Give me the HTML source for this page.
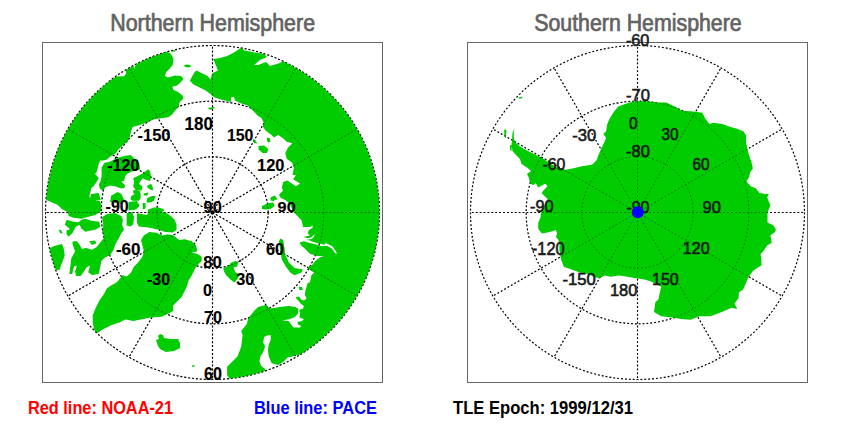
<!DOCTYPE html>
<html><head><meta charset="utf-8"><style>
html,body{margin:0;padding:0;background:#fff;}
svg{display:block;}
text{font-family:"Liberation Sans",sans-serif;}
</style></head><body>
<svg width="850" height="425" viewBox="0 0 850 425">
<rect width="850" height="425" fill="#fff"/>
<g fill="#636363" stroke="#636363" stroke-width="0.7">
<text x="110.2" y="31" font-size="23" textLength="204.9" lengthAdjust="spacingAndGlyphs">Northern Hemisphere</text>
<text x="534.2" y="30.8" font-size="23" textLength="207.5" lengthAdjust="spacingAndGlyphs">Southern Hemisphere</text>
</g>
<g fill="none" stroke="#000" stroke-width="1.15" stroke-dasharray="2 1.9">
<circle cx="212.5" cy="212.5" r="55.67"/>
<circle cx="212.5" cy="212.5" r="111.33"/>
<circle cx="212.5" cy="212.5" r="167.00"/>
<line x1="212.5" y1="212.5" x2="379.50" y2="212.50"/>
<line x1="212.5" y1="212.5" x2="357.13" y2="296.00"/>
<line x1="212.5" y1="212.5" x2="296.00" y2="357.13"/>
<line x1="212.5" y1="212.5" x2="212.50" y2="379.50"/>
<line x1="212.5" y1="212.5" x2="129.00" y2="357.13"/>
<line x1="212.5" y1="212.5" x2="67.87" y2="296.00"/>
<line x1="212.5" y1="212.5" x2="45.50" y2="212.50"/>
<line x1="212.5" y1="212.5" x2="67.87" y2="129.00"/>
<line x1="212.5" y1="212.5" x2="129.00" y2="67.87"/>
<line x1="212.5" y1="212.5" x2="212.50" y2="45.50"/>
<line x1="212.5" y1="212.5" x2="296.00" y2="67.87"/>
<line x1="212.5" y1="212.5" x2="357.13" y2="129.00"/>
</g>
<clipPath id="cn"><circle cx="212.5" cy="212.5" r="167.0"/></clipPath><path clip-path="url(#cn)" fill="#00cc00" d="M160.0,38.0 L167.6,51.7 L171.0,53.9 L173.6,59.0 L172.7,64.9 L169.3,69.1 L165.9,72.5 L165.0,75.9 L168.0,77.6 L175.0,75.6 L181.0,76.0 L183.5,79.0 L180.0,83.0 L177.0,85.6 L172.4,86.8 L173.5,90.0 L178.0,92.0 L182.5,95.5 L183.4,98.5 L179.6,102.2 L178.7,106.9 L174.9,110.7 L172.1,114.5 L168.4,117.3 L160.8,118.2 L154.2,119.2 L147.6,122.0 L140.0,125.0 L132.7,126.9 L131.3,130.6 L129.9,136.3 L128.0,141.0 L123.3,144.8 L120.5,147.6 L117.6,150.4 L115.8,153.2 L111.1,156.1 L106.4,159.8 L101.6,160.8 L100.7,160.0 L98.8,163.8 L97.9,167.5 L96.5,172.2 L95.1,174.1 L98.8,177.9 L96.9,181.6 L94.1,185.4 L91.3,188.2 L90.4,192.0 L89.4,195.8 L90.0,199.0 L100.0,201.0 L101.5,206.0 L101.3,210.9 L95.4,214.9 L87.5,216.9 L81.5,218.8 L73.6,217.8 L68.7,215.9 L67.7,211.9 L61.8,209.0 L57.8,205.0 L50.0,201.5 L44.0,199.0 L30.0,199.0 L30.0,100.0 L100.0,60.0 L115.1,76.6 L124.2,76.2 L126.3,73.3 L125.6,70.5 L129.1,67.7 L133.4,65.2 L134.1,69.1 L132.6,73.3 L135.5,65.6 L136.2,60.0 L140.0,50.0Z M171.0,49.7 L175.6,49.2 L175.0,51.6 L171.5,52.0Z M184.0,65.0 L188.0,64.5 L191.6,66.0 L189.0,67.6 L185.0,67.0Z M207.6,108.0 L214.7,106.8 L213.5,109.1 L210.0,109.7Z M101.6,167.5 L104.5,162.8 L109.2,161.9 L117.0,158.0 L124.2,156.1 L130.8,155.1 L132.7,157.0 L136.5,160.8 L139.3,163.8 L140.2,169.4 L132.7,171.3 L128.0,173.2 L125.2,176.0 L124.2,180.7 L121.4,181.6 L125.2,185.4 L124.2,188.2 L120.5,188.2 L115.8,186.4 L110.1,185.4 L105.4,187.3 L102.6,191.1 L99.8,188.2 L98.8,184.5 L100.7,180.7 L101.6,176.0 L101.6,171.3Z M133.2,178.2 L138.8,175.4 L142.6,173.5 L146.4,170.6 L148.2,169.2 L150.1,171.6 L151.1,177.2 L150.1,181.0 L146.4,180.1 L142.6,178.2 L140.7,181.0 L138.8,183.8 L142.6,186.6 L141.6,190.4 L136.0,190.4 L133.2,186.6 L134.1,181.9Z M147.3,185.7 L151.1,183.8 L152.9,187.6 L152.9,190.4 L150.1,189.5 L147.3,187.6Z M131.3,196.1 L136.0,193.2 L140.7,193.2 L140.7,197.9 L138.8,200.8 L132.2,200.8 L130.4,198.9Z M147.3,197.9 L152.0,196.1 L155.8,196.1 L153.9,200.8 L150.1,202.6 L146.4,202.6Z M111.1,195.8 L117.6,192.0 L121.4,193.9 L124.2,200.0 L122.0,204.0 L110.1,202.0Z M91.3,193.9 L98.8,192.9 L100.7,200.0 L89.4,200.0Z M128.5,201.9 L136.9,200.9 L139.8,205.6 L136.0,209.4 L128.5,210.4Z M126.6,213.2 L132.2,212.2 L134.1,216.9 L133.2,224.5 L130.4,226.4 L126.6,225.4 L126.6,218.8Z M136.9,213.2 L141.6,214.1 L147.3,215.1 L148.2,209.4 L153.9,207.5 L158.6,207.5 L163.3,208.9 L164.2,210.4 L161.4,212.2 L165.2,212.2 L170.8,216.0 L174.6,219.8 L176.5,224.5 L176.5,230.1 L172.7,232.5 L165.2,232.0 L159.5,230.1 L152.0,228.2 L146.4,227.3 L138.8,226.4 L136.9,222.6Z M66.7,219.8 L73.6,221.8 L78.6,222.3 L81.5,219.8 L85.5,218.8 L91.4,220.8 L99.3,221.8 L100.3,226.7 L95.4,229.7 L89.5,230.7 L85.5,231.7 L81.5,228.7 L79.6,224.8 L75.6,226.7 L72.7,232.7 L68.7,236.6 L66.7,233.7 L69.7,228.7 L64.8,224.8Z M58.8,229.7 L61.0,230.0 L62.8,233.7 L60.0,233.0Z M72.7,241.6 L76.0,241.0 L78.6,246.5 L74.0,246.0Z M89.2,241.3 L94.8,240.4 L96.7,243.2 L92.0,245.1Z M66.6,230.0 L72.2,230.0 L69.4,236.6 L66.6,234.7Z M102.3,216.9 L107.2,213.9 L115.1,212.9 L121.1,215.9 L123.0,219.8 L122.1,224.8 L124.0,229.7 L121.0,233.7 L119.3,237.5 L115.5,244.1 L113.6,249.8 L109.9,255.4 L105.2,257.3 L101.4,261.1 L100.5,265.8 L98.6,274.1 L92.0,275.1 L88.2,272.2 L90.1,265.6 L86.4,267.5 L83.5,272.2 L80.7,276.0 L76.0,276.0 L75.1,271.3 L76.9,265.6 L74.1,266.6 L72.2,274.1 L69.4,274.1 L71.3,258.2 L75.1,251.6 L73.2,246.0 L72.2,242.2 L76.9,241.3 L79.8,245.1 L81.6,248.8 L86.4,247.9 L92.0,249.8 L96.7,246.9 L100.5,242.2 L104.2,237.5 L102.4,231.9 L103.3,224.8 L102.3,219.8Z M45.0,246.0 L49.6,247.9 L54.4,246.0 L61.9,244.1 L63.8,248.8 L64.7,255.4 L62.8,261.1 L61.0,265.0 L60.0,269.4 L56.2,270.4 L48.0,272.0 L40.0,260.0Z M141.0,239.9 L143.8,235.6 L149.4,232.1 L156.5,232.8 L162.1,235.6 L167.8,234.2 L173.4,235.6 L179.1,239.9 L184.7,239.2 L191.8,241.3 L196.0,245.5 L197.4,251.2 L191.8,252.6 L197.4,254.0 L201.7,256.8 L201.7,261.1 L196.0,266.7 L193.2,272.4 L190.4,278.0 L188.7,280.0 L187.3,285.6 L184.5,291.3 L181.7,296.9 L177.4,301.2 L173.2,305.4 L173.2,311.1 L167.5,313.9 L161.9,316.7 L150.6,317.4 L140.7,319.5 L133.6,320.9 L125.2,319.5 L119.5,322.4 L111.1,325.2 L102.6,329.4 L96.9,333.6 L94.1,329.4 L92.7,322.4 L92.7,315.3 L95.5,308.2 L99.8,299.8 L104.0,294.1 L106.8,288.5 L111.0,285.5 L116.9,282.2 L119.8,278.7 L122.6,275.2 L126.8,276.6 L131.1,272.4 L133.9,266.7 L138.1,262.5 L142.4,256.8 L143.8,251.2 L142.4,245.5Z M400.0,30.0 L400.0,300.0 L300.0,362.0 L297.1,354.8 L292.4,356.6 L287.6,357.6 L282.9,362.3 L278.2,365.1 L271.6,363.2 L268.8,356.6 L267.9,350.1 L268.8,344.4 L270.7,339.7 L270.7,335.0 L267.0,335.5 L264.1,336.9 L263.2,342.5 L265.1,346.3 L263.2,351.9 L260.4,356.6 L259.4,361.4 L261.3,366.1 L265.1,368.9 L265.0,390.0 L229.0,390.0 L229.4,378.5 L227.1,375.0 L227.1,366.8 L232.9,360.9 L237.6,356.2 L241.2,346.8 L242.6,335.2 L241.2,330.9 L246.8,323.9 L248.2,318.2 L253.9,311.2 L258.1,306.9 L266.6,304.8 L269.4,308.4 L274.7,307.9 L279.4,306.9 L288.8,306.0 L295.4,306.9 L298.2,308.8 L298.2,313.5 L294.5,317.3 L288.8,319.2 L282.2,320.6 L288.8,321.1 L290.7,323.9 L293.5,327.6 L300.1,327.6 L301.1,325.8 L298.2,324.8 L297.3,322.0 L302.0,321.1 L303.9,319.2 L299.2,317.3 L300.1,314.5 L299.2,309.8 L302.9,308.8 L303.9,306.0 L301.1,304.1 L298.2,300.4 L295.4,297.5 L299.2,296.6 L301.1,299.4 L303.9,300.4 L306.7,298.5 L304.8,294.7 L305.3,291.2 L307.6,282.9 L310.0,282.2 L311.4,275.2 L314.2,272.4 L311.4,270.9 L307.2,268.1 L310.0,266.0 L312.1,265.0 L315.0,261.2 L319.7,257.6 L323.8,255.9 L317.4,255.9 L315.0,255.3 L310.3,254.1 L307.9,251.8 L304.4,248.2 L300.9,245.3 L299.7,242.4 L303.8,241.2 L309.7,242.9 L314.4,244.1 L321.5,245.9 L327.4,245.9 L332.1,248.8 L335.0,252.9 L336.8,254.1 L336.2,251.8 L332.6,246.5 L329.1,244.7 L325.6,242.9 L324.4,244.7 L318.5,243.5 L312.6,241.8 L309.1,240.3 L306.0,240.0 L311.2,239.1 L314.0,236.9 L314.7,234.1 L311.2,237.6 L307.6,238.3 L303.4,236.9 L309.8,235.5 L307.6,232.7 L309.1,229.9 L312.6,227.8 L312.6,225.6 L309.8,227.1 L302.7,227.1 L302.9,225.8 L301.5,220.2 L297.3,215.9 L293.1,211.7 L290.2,204.6 L286.0,200.4 L280.4,197.6 L278.9,194.8 L283.2,190.5 L281.8,187.7 L283.2,182.1 L287.4,180.6 L295.9,186.3 L300.1,183.5 L293.1,179.2 L295.9,175.0 L292.4,175.0 L293.8,168.6 L292.4,163.0 L286.7,158.8 L285.3,153.1 L288.1,147.5 L292.4,143.2 L286.7,141.8 L283.9,139.0 L278.2,134.8 L274.0,137.6 L271.2,134.8 L265.5,130.5 L262.7,126.3 L264.1,123.5 L261.3,117.8 L258.0,116.0 L254.7,112.6 L251.2,109.1 L247.6,105.6 L240.6,103.2 L234.7,100.3 L234.1,96.8 L231.2,97.4 L231.2,102.1 L221.8,99.7 L214.7,97.4 L210.0,93.8 L205.3,90.3 L200.6,87.9 L193.5,84.4 L189.8,80.8 L194.5,72.3 L196.4,70.4 L202.0,73.2 L207.6,76.1 L210.5,79.5 L211.5,76.0 L212.4,73.2 L214.2,72.3 L218.0,70.4 L216.1,65.7 L213.3,59.1 L218.9,58.2 L226.5,56.3 L234.0,52.5 L239.6,48.8 L241.5,47.4 L244.4,50.6 L252.0,52.0 L264.0,54.0 L267.0,57.0 L260.0,60.0 L254.0,65.0 L258.0,65.0 L266.0,62.0 L270.0,66.0 L280.0,63.0 L286.0,58.0 L300.0,30.0Z M266.9,137.6 L269.8,138.3 L270.5,141.8 L268.4,142.5 L266.9,140.4Z M258.5,146.1 L264.1,145.4 L268.4,148.9 L266.9,153.1 L262.7,153.1 L258.5,149.6Z M252.8,139.0 L255.6,140.4 L257.1,143.2 L254.2,143.2Z M270.5,197.6 L274.7,195.5 L277.5,199.0 L273.3,201.1 L270.5,200.4Z M262.0,206.1 L267.6,203.2 L273.3,202.5 L274.7,206.1 L270.5,208.9 L264.8,209.6 L262.0,208.9Z M280.4,238.5 L283.2,239.9 L284.6,248.4 L285.0,254.0 L288.8,262.5 L294.5,268.1 L302.9,269.5 L301.5,272.4 L294.5,275.2 L290.2,272.4 L286.0,266.7 L281.8,259.6 L280.4,251.2 L278.9,241.3Z M298.7,286.5 L301.8,287.0 L303.0,290.0 L299.4,290.0Z M223.2,268.5 L228.8,265.7 L230.7,262.9 L235.4,261.0 L238.2,261.9 L237.3,266.6 L233.5,267.6 L235.4,272.3 L239.2,274.2 L238.2,277.9 L234.5,282.6 L230.7,279.8 L226.0,275.1 L224.1,271.4Z M160.0,334.0 L163.0,335.0 L164.0,338.0 L170.0,339.0 L178.0,339.0 L180.0,343.0 L180.0,348.0 L174.0,351.0 L166.0,352.0 L160.0,349.0 L158.0,346.0 L156.0,340.0 L159.0,339.0 L158.0,336.0Z M192.2,365.2 L195.0,365.2 L194.0,366.8 L192.0,366.8Z M143.6,193.5 L148.4,192.5 L147.4,195.4 L143.6,195.4Z M142.7,202.9 L145.5,202.9 L145.5,208.5 L142.7,209.5Z M133.3,189.7 L140.8,191.6 L138.9,194.4 L133.3,193.5Z"/>
<g fill="none" stroke="#000" stroke-width="1.15" stroke-dasharray="1.8 2.1">
<circle cx="637.5" cy="212.5" r="55.67"/>
<circle cx="637.5" cy="212.5" r="111.33"/>
<circle cx="637.5" cy="212.5" r="167.00"/>
<line x1="637.5" y1="212.5" x2="804.50" y2="212.50"/>
<line x1="637.5" y1="212.5" x2="782.13" y2="296.00"/>
<line x1="637.5" y1="212.5" x2="721.00" y2="357.13"/>
<line x1="637.5" y1="212.5" x2="637.50" y2="379.50"/>
<line x1="637.5" y1="212.5" x2="554.00" y2="357.13"/>
<line x1="637.5" y1="212.5" x2="492.87" y2="296.00"/>
<line x1="637.5" y1="212.5" x2="470.50" y2="212.50"/>
<line x1="637.5" y1="212.5" x2="492.87" y2="129.00"/>
<line x1="637.5" y1="212.5" x2="554.00" y2="67.87"/>
<line x1="637.5" y1="212.5" x2="637.50" y2="45.50"/>
<line x1="637.5" y1="212.5" x2="721.00" y2="67.87"/>
<line x1="637.5" y1="212.5" x2="782.13" y2="129.00"/>
</g>
<clipPath id="cs"><circle cx="637.5" cy="212.5" r="167.0"/></clipPath><path clip-path="url(#cs)" fill="#00cc00" d="M613.0,113.0 L618.2,106.6 L629.5,102.4 L636.6,101.0 L649.3,101.6 L657.8,102.4 L666.2,102.4 L674.7,106.6 L681.8,110.8 L693.9,111.4 L702.4,112.8 L705.2,118.5 L709.4,124.1 L713.6,122.7 L722.1,124.1 L730.6,126.9 L736.2,128.4 L743.3,131.2 L746.1,135.4 L746.1,142.5 L747.5,149.5 L750.4,159.4 L751.0,160.0 L752.9,168.5 L750.1,172.2 L749.2,176.9 L746.4,181.6 L751.1,186.4 L755.8,188.2 L759.5,192.9 L765.2,193.9 L768.9,193.9 L767.1,197.6 L768.9,200.0 L767.5,198.5 L770.4,205.5 L767.5,212.6 L767.5,222.5 L773.2,225.3 L776.0,229.5 L774.6,232.4 L770.4,235.2 L771.8,242.2 L769.9,240.0 L771.8,242.8 L767.1,245.6 L763.3,251.3 L760.5,254.1 L761.4,258.8 L761.4,265.4 L756.7,268.2 L752.9,271.1 L748.2,277.6 L747.3,280.0 L743.1,289.5 L738.8,292.4 L738.7,297.8 L734.5,303.5 L737.3,309.1 L731.7,307.7 L721.8,311.9 L710.5,316.2 L699.2,316.2 L690.7,319.7 L680.8,319.0 L672.4,317.6 L661.1,316.2 L654.0,311.9 L655.4,302.1 L658.4,299.4 L659.8,292.4 L661.2,286.7 L657.0,284.5 L651.0,281.5 L644.5,279.6 L636.0,278.2 L627.5,276.8 L619.1,275.4 L610.6,276.8 L604.9,275.4 L599.3,278.2 L593.6,276.8 L588.0,274.0 L579.5,272.6 L572.5,269.8 L564.0,266.9 L561.2,259.9 L559.8,252.8 L559.4,250.0 L559.4,244.1 L558.2,239.4 L555.9,237.1 L557.1,233.5 L555.9,230.0 L552.4,231.2 L547.6,232.4 L541.8,233.5 L538.2,228.8 L538.2,222.9 L540.6,217.1 L540.6,215.0 L541.8,209.7 L545.3,203.8 L547.6,199.1 L545.3,196.8 L541.8,193.2 L542.9,190.9 L547.6,186.2 L545.3,183.8 L538.2,187.4 L535.9,183.2 L533.5,185.0 L530.0,183.8 L529.0,178.0 L527.0,174.0 L531.0,171.0 L527.0,167.5 L521.5,164.0 L520.0,159.0 L516.0,155.0 L512.5,151.0 L511.5,145.0 L512.0,140.0 L512.5,133.0 L514.5,128.5 L513.8,133.0 L514.0,139.0 L516.0,143.0 L520.0,146.5 L526.0,150.0 L533.0,153.5 L541.0,157.5 L549.0,162.5 L556.0,167.0 L565.3,169.7 L572.4,168.5 L581.8,166.2 L590.0,165.0 L593.0,164.0 L596.7,160.0 L598.6,154.8 L601.4,148.2 L604.2,142.6 L606.1,137.9 L603.3,134.1 L606.1,131.3 L607.1,124.7 L608.9,120.0Z M504.1,129.7 L506.5,129.7 L506.0,138.0 L504.5,137.0Z M510.0,145.0 L511.8,145.5 L511.5,151.0 L510.0,150.0Z M518.4,97.5 L522.6,96.5 L521.5,98.5 L518.5,98.5Z"/>
<g fill="none" stroke="#000" stroke-width="1" stroke-dasharray="2 1.9" opacity="0.4">
<circle cx="212.5" cy="212.5" r="55.67"/>
<circle cx="212.5" cy="212.5" r="111.33"/>
<circle cx="212.5" cy="212.5" r="167.00"/>
<line x1="212.5" y1="212.5" x2="379.50" y2="212.50"/>
<line x1="212.5" y1="212.5" x2="357.13" y2="296.00"/>
<line x1="212.5" y1="212.5" x2="296.00" y2="357.13"/>
<line x1="212.5" y1="212.5" x2="212.50" y2="379.50"/>
<line x1="212.5" y1="212.5" x2="129.00" y2="357.13"/>
<line x1="212.5" y1="212.5" x2="67.87" y2="296.00"/>
<line x1="212.5" y1="212.5" x2="45.50" y2="212.50"/>
<line x1="212.5" y1="212.5" x2="67.87" y2="129.00"/>
<line x1="212.5" y1="212.5" x2="129.00" y2="67.87"/>
<line x1="212.5" y1="212.5" x2="212.50" y2="45.50"/>
<line x1="212.5" y1="212.5" x2="296.00" y2="67.87"/>
<line x1="212.5" y1="212.5" x2="357.13" y2="129.00"/>
</g>
<g fill="none" stroke="#000" stroke-width="1" stroke-dasharray="1.8 2.1" opacity="0.4">
<circle cx="637.5" cy="212.5" r="55.67"/>
<circle cx="637.5" cy="212.5" r="111.33"/>
<circle cx="637.5" cy="212.5" r="167.00"/>
<line x1="637.5" y1="212.5" x2="804.50" y2="212.50"/>
<line x1="637.5" y1="212.5" x2="782.13" y2="296.00"/>
<line x1="637.5" y1="212.5" x2="721.00" y2="357.13"/>
<line x1="637.5" y1="212.5" x2="637.50" y2="379.50"/>
<line x1="637.5" y1="212.5" x2="554.00" y2="357.13"/>
<line x1="637.5" y1="212.5" x2="492.87" y2="296.00"/>
<line x1="637.5" y1="212.5" x2="470.50" y2="212.50"/>
<line x1="637.5" y1="212.5" x2="492.87" y2="129.00"/>
<line x1="637.5" y1="212.5" x2="554.00" y2="67.87"/>
<line x1="637.5" y1="212.5" x2="637.50" y2="45.50"/>
<line x1="637.5" y1="212.5" x2="721.00" y2="67.87"/>
<line x1="637.5" y1="212.5" x2="782.13" y2="129.00"/>
</g>
<rect x="42.5" y="42.5" width="340" height="340" fill="none" stroke="#666" stroke-width="1"/>
<rect x="467.5" y="42.5" width="340" height="340" fill="none" stroke="#666" stroke-width="1"/>
<g font-weight="bold" fill="#000" stroke="#000" stroke-width="0.15">
<text x="184.6" y="129.9" font-size="17.74" textLength="28.2" lengthAdjust="spacingAndGlyphs">180</text>
<text x="137.5" y="140.8" font-size="17.18" textLength="33.0" lengthAdjust="spacingAndGlyphs">-150</text>
<text x="226.9" y="140.8" font-size="17.18" textLength="26.4" lengthAdjust="spacingAndGlyphs">150</text>
<text x="107.3" y="170.6" font-size="16.20" textLength="32.1" lengthAdjust="spacingAndGlyphs">-120</text>
<text x="257.0" y="170.9" font-size="15.78" textLength="27.4" lengthAdjust="spacingAndGlyphs">120</text>
<text x="105.6" y="212.3" font-size="15.78" textLength="23.1" lengthAdjust="spacingAndGlyphs">-90</text>
<text x="203.6" y="212.5" font-size="16.76" textLength="18.2" lengthAdjust="spacingAndGlyphs">90</text>
<text x="277.6" y="212.3" font-size="15.50" textLength="18.1" lengthAdjust="spacingAndGlyphs">90</text>
<text x="115.9" y="255.0" font-size="16.20" textLength="24.6" lengthAdjust="spacingAndGlyphs">-60</text>
<text x="266.0" y="255.0" font-size="16.20" textLength="18.0" lengthAdjust="spacingAndGlyphs">60</text>
<text x="203.3" y="267.8" font-size="16.76" textLength="18.6" lengthAdjust="spacingAndGlyphs">80</text>
<text x="147.0" y="284.8" font-size="16.20" textLength="23.2" lengthAdjust="spacingAndGlyphs">-30</text>
<text x="236.2" y="284.8" font-size="16.20" textLength="18.1" lengthAdjust="spacingAndGlyphs">30</text>
<text x="203.0" y="295.5" font-size="16.06" textLength="9.0" lengthAdjust="spacingAndGlyphs">0</text>
<text x="204.0" y="323.0" font-size="16.06" textLength="18.0" lengthAdjust="spacingAndGlyphs">70</text>
<text x="204.0" y="379.6" font-size="17.74" textLength="17.9" lengthAdjust="spacingAndGlyphs">60</text>
</g>
<g fill="#1a1a1a" stroke="#1a1a1a" stroke-width="0.6">
<text x="625.9" y="45.9" font-size="16.48" textLength="23.5" lengthAdjust="spacingAndGlyphs">-60</text>
<text x="626.0" y="101.0" font-size="16.76" textLength="24.0" lengthAdjust="spacingAndGlyphs">-70</text>
<text x="628.9" y="129.1" font-size="15.78" textLength="8.5" lengthAdjust="spacingAndGlyphs">0</text>
<text x="572.2" y="140.7" font-size="17.04" textLength="24.0" lengthAdjust="spacingAndGlyphs">-30</text>
<text x="661.4" y="140.4" font-size="16.76" textLength="17.0" lengthAdjust="spacingAndGlyphs">30</text>
<text x="626.0" y="156.7" font-size="16.76" textLength="23.8" lengthAdjust="spacingAndGlyphs">-80</text>
<text x="542.4" y="170.3" font-size="16.48" textLength="22.9" lengthAdjust="spacingAndGlyphs">-60</text>
<text x="692.5" y="170.0" font-size="15.78" textLength="16.9" lengthAdjust="spacingAndGlyphs">60</text>
<text x="530.0" y="212.1" font-size="15.64" textLength="23.5" lengthAdjust="spacingAndGlyphs">-90</text>
<text x="626.4" y="212.6" font-size="17.04" textLength="23.0" lengthAdjust="spacingAndGlyphs">-90</text>
<text x="702.6" y="212.6" font-size="16.76" textLength="18.3" lengthAdjust="spacingAndGlyphs">90</text>
<text x="531.8" y="254.7" font-size="18.02" textLength="32.9" lengthAdjust="spacingAndGlyphs">-120</text>
<text x="682.8" y="254.2" font-size="16.76" textLength="26.8" lengthAdjust="spacingAndGlyphs">120</text>
<text x="562.6" y="284.6" font-size="15.78" textLength="33.2" lengthAdjust="spacingAndGlyphs">-150</text>
<text x="652.0" y="284.6" font-size="16.76" textLength="26.8" lengthAdjust="spacingAndGlyphs">150</text>
<text x="609.9" y="295.9" font-size="15.78" textLength="27.5" lengthAdjust="spacingAndGlyphs">180</text>
</g>
<circle cx="637.8" cy="212.3" r="6" fill="#0000ff"/>
<g font-weight="bold">
<text x="28" y="414" font-size="18" fill="#ff0000" textLength="145" lengthAdjust="spacingAndGlyphs">Red line: NOAA-21</text>
<text x="254" y="414" font-size="18" fill="#0000ff" textLength="123" lengthAdjust="spacingAndGlyphs">Blue line: PACE</text>
<text x="453" y="414" font-size="18.3" fill="#000" textLength="180" lengthAdjust="spacingAndGlyphs">TLE Epoch: 1999/12/31</text>
</g>
</svg>
</body></html>
